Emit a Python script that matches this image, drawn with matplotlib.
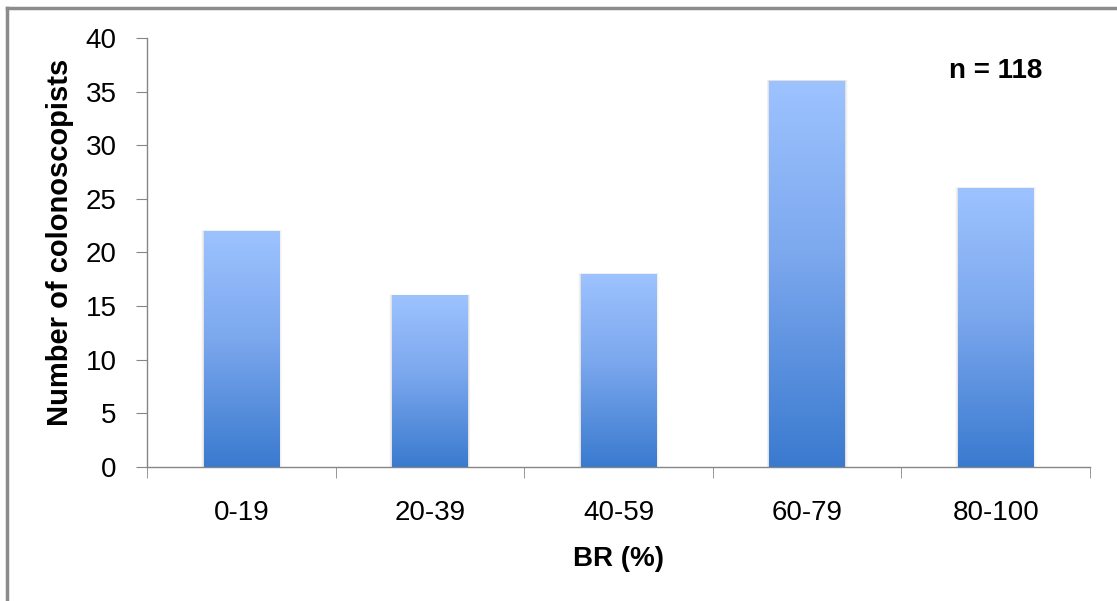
import numpy as np
import matplotlib
matplotlib.use("Agg")
import matplotlib.pyplot as plt
from matplotlib.colors import LinearSegmentedColormap
from matplotlib.lines import Line2D

plt.rcParams['font.family'] = ['Liberation Sans', 'DejaVu Sans']

# data
categories = ["0-19", "20-39", "40-59", "60-79", "80-100"]
counts = [22, 16, 18, 36, 26]
yticks = [0, 5, 10, 15, 20, 25, 30, 35, 40]

grey = "#868686"
# light blue at the top of each bar, darker blue at the bottom
grad = LinearSegmentedColormap.from_list(
    "bar", [(0.0, "#3a7acf"), (0.55, "#7ca8ee"), (1.0, "#9dc3ff")])

fig = plt.figure(figsize=(11.17, 6.01), dpi=100)
ax = fig.add_axes([147 / 1117, 1 - 467 / 601, (1090 - 147) / 1117, (467 - 38) / 601])

x = np.arange(len(categories))
width = 0.40
bars = ax.bar(x, counts, width=width, color="none", zorder=3)

grad_img = np.linspace(1, 0, 256).reshape(-1, 1)
for b in bars:
    x0, y0 = b.get_x(), b.get_y()
    w, h = b.get_width(), b.get_height()
    # soft shadow on the sides of the bar
    for k, a in enumerate([0.06, 0.04, 0.02]):
        d = 0.005 * (k + 1)
        ax.add_patch(plt.Rectangle((x0 - d, y0), w + 2 * d, h + d * 8, facecolor="black",
                                   alpha=a, edgecolor="none", zorder=2))
    im = ax.imshow(grad_img, cmap=grad, aspect="auto", extent=(x0, x0 + w, y0, y0 + h),
                   zorder=3, interpolation="bicubic")
    im.set_clip_path(b)

ax.set_xlim(-0.5, len(categories) - 0.5)
ax.set_ylim(0, 40)
ax.set_yticks(yticks)
ax.set_xticks(x)
ax.set_xticklabels(categories)
ax.set_xticks(np.arange(-0.5, len(categories), 1.0), minor=True)
ax.tick_params(axis="x", which="major", length=0, pad=24, labelsize=20)
ax.tick_params(axis="x", which="minor", length=8, color=grey, direction="out")
ax.tick_params(axis="y", length=8, color=grey, direction="out", pad=14, labelsize=20)

for s in ["top", "right"]:
    ax.spines[s].set_visible(False)
for s in ["left", "bottom"]:
    ax.spines[s].set_color(grey)
    ax.spines[s].set_linewidth(1.0)

ax.set_ylabel("Number of colonoscopists", fontsize=21, fontweight="bold")
ax.yaxis.set_label_coords(-0.077, 0.524)
ax.set_xlabel("BR (%)", fontsize=20, fontweight="bold", labelpad=14)
ax.text(0.9, 0.922, "n = 118", transform=ax.transAxes, fontsize=20,
        fontweight="bold", ha="center", va="center")

# chart area border (left and top edges visible)
fig.add_artist(Line2D([7 / 1117, 7 / 1117], [0, 1 - 8 / 601], color="#8c8c8c", lw=2.5,
                      transform=fig.transFigure))
fig.add_artist(Line2D([7 / 1117, 1], [1 - 8 / 601, 1 - 8 / 601], color="#8c8c8c", lw=2.5,
                      transform=fig.transFigure))

fig.savefig("out.png", dpi=100)
